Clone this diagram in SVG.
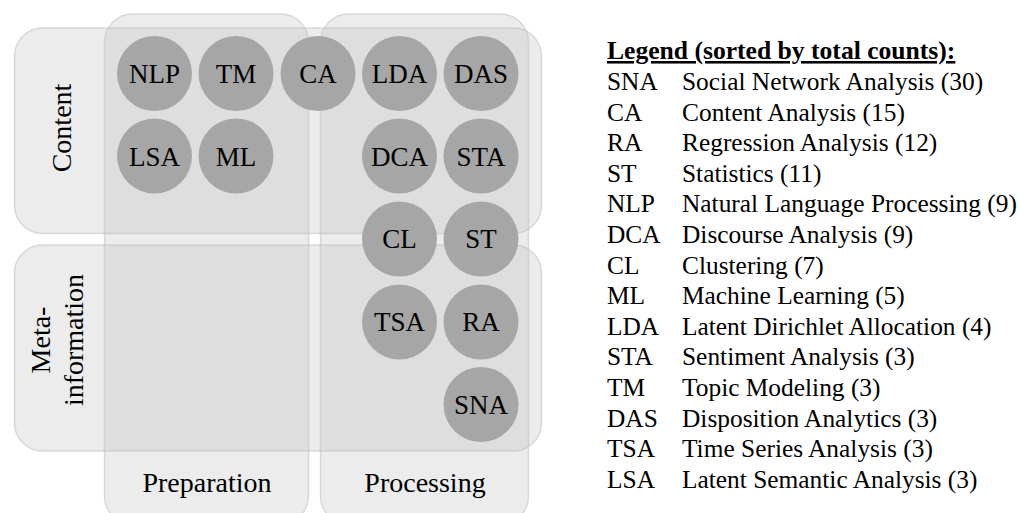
<svg xmlns="http://www.w3.org/2000/svg" width="1019" height="513" viewBox="0 0 1019 513">
<style>
.area{fill:#b7b7b7;fill-opacity:0.26;stroke:#c4c4c4;stroke-opacity:0.6;stroke-width:1.5}
.node circle{fill:#a6a6a6}
.node text{font-size:27px;fill:#000;text-anchor:middle}
.lab{font-size:28px;fill:#000;text-anchor:middle}
.lg{font-size:25.4px;fill:#000}
.lgt{font-size:25.6px;font-weight:bold;fill:#000;text-decoration:underline}
</style>
<rect width="1019" height="513" fill="#fff"/>
<g id="areas">
<rect id="row-content" class="area" x="14.5" y="28" width="527" height="205.5" rx="28"/>
<rect id="row-meta" class="area" x="14.5" y="245" width="527" height="206" rx="28"/>
<rect id="col-preparation" class="area" x="104.5" y="14" width="204" height="510" rx="28"/>
<rect id="col-processing" class="area" x="320.5" y="14" width="208" height="510" rx="28"/>
</g>
<g id="labels" font-family="Liberation Serif, serif">
<text class="lab" transform="translate(71,128) rotate(-90)">Content</text>
<text class="lab" transform="translate(50,340) rotate(-90)">Meta-</text>
<text class="lab" transform="translate(83,340) rotate(-90)">information</text>
<text class="lab" x="207" y="492">Preparation</text>
<text class="lab" x="425" y="492">Processing</text>
</g>
<g id="connectors"></g>
<g id="nodes" font-family="Liberation Serif, serif">
<g id="NLP" class="node"><circle cx="154.5" cy="73.5" r="37.5"/><text x="154.5" y="83">NLP</text></g>
<g id="TM" class="node"><circle cx="236" cy="73.5" r="37.5"/><text x="236" y="83">TM</text></g>
<g id="CA" class="node"><circle cx="318" cy="73.5" r="37.5"/><text x="318" y="83">CA</text></g>
<g id="LDA" class="node"><circle cx="399.5" cy="73.5" r="37.5"/><text x="399.5" y="83">LDA</text></g>
<g id="DAS" class="node"><circle cx="481" cy="73.5" r="37.5"/><text x="481" y="83">DAS</text></g>
<g id="LSA" class="node"><circle cx="154.5" cy="156" r="37.5"/><text x="154.5" y="165.5">LSA</text></g>
<g id="ML" class="node"><circle cx="236" cy="156" r="37.5"/><text x="236" y="165.5">ML</text></g>
<g id="DCA" class="node"><circle cx="399.5" cy="156" r="37.5"/><text x="399.5" y="165.5">DCA</text></g>
<g id="STA" class="node"><circle cx="481" cy="156" r="37.5"/><text x="481" y="165.5">STA</text></g>
<g id="CL" class="node"><circle cx="399.5" cy="239" r="37.5"/><text x="399.5" y="248">CL</text></g>
<g id="ST" class="node"><circle cx="481" cy="239" r="37.5"/><text x="481" y="248">ST</text></g>
<g id="TSA" class="node"><circle cx="399.5" cy="322" r="37.5"/><text x="399.5" y="331">TSA</text></g>
<g id="RA" class="node"><circle cx="481" cy="322" r="37.5"/><text x="481" y="331">RA</text></g>
<g id="SNA" class="node"><circle cx="481" cy="404.5" r="37.5"/><text x="481" y="414">SNA</text></g>
</g>
<g id="legend" font-family="Liberation Serif, serif">
<text class="lgt" x="607" y="59">Legend (sorted by total counts):</text>
<text class="lg" x="607" y="90">SNA</text><text class="lg" x="682" y="90">Social Network Analysis (30)</text>
<text class="lg" x="607" y="120.6">CA</text><text class="lg" x="682" y="120.6">Content Analysis (15)</text>
<text class="lg" x="607" y="151.2">RA</text><text class="lg" x="682" y="151.2">Regression Analysis (12)</text>
<text class="lg" x="607" y="181.8">ST</text><text class="lg" x="682" y="181.8">Statistics (11)</text>
<text class="lg" x="607" y="212.4">NLP</text><text class="lg" x="682" y="212.4">Natural Language Processing (9)</text>
<text class="lg" x="607" y="243">DCA</text><text class="lg" x="682" y="243">Discourse Analysis (9)</text>
<text class="lg" x="607" y="273.6">CL</text><text class="lg" x="682" y="273.6">Clustering (7)</text>
<text class="lg" x="607" y="304.2">ML</text><text class="lg" x="682" y="304.2">Machine Learning (5)</text>
<text class="lg" x="607" y="334.8">LDA</text><text class="lg" x="682" y="334.8">Latent Dirichlet Allocation (4)</text>
<text class="lg" x="607" y="365.4">STA</text><text class="lg" x="682" y="365.4">Sentiment Analysis (3)</text>
<text class="lg" x="607" y="396">TM</text><text class="lg" x="682" y="396">Topic Modeling (3)</text>
<text class="lg" x="607" y="426.6">DAS</text><text class="lg" x="682" y="426.6">Disposition Analytics (3)</text>
<text class="lg" x="607" y="457.2">TSA</text><text class="lg" x="682" y="457.2">Time Series Analysis (3)</text>
<text class="lg" x="607" y="487.8">LSA</text><text class="lg" x="682" y="487.8">Latent Semantic Analysis (3)</text>
</g>
</svg>
